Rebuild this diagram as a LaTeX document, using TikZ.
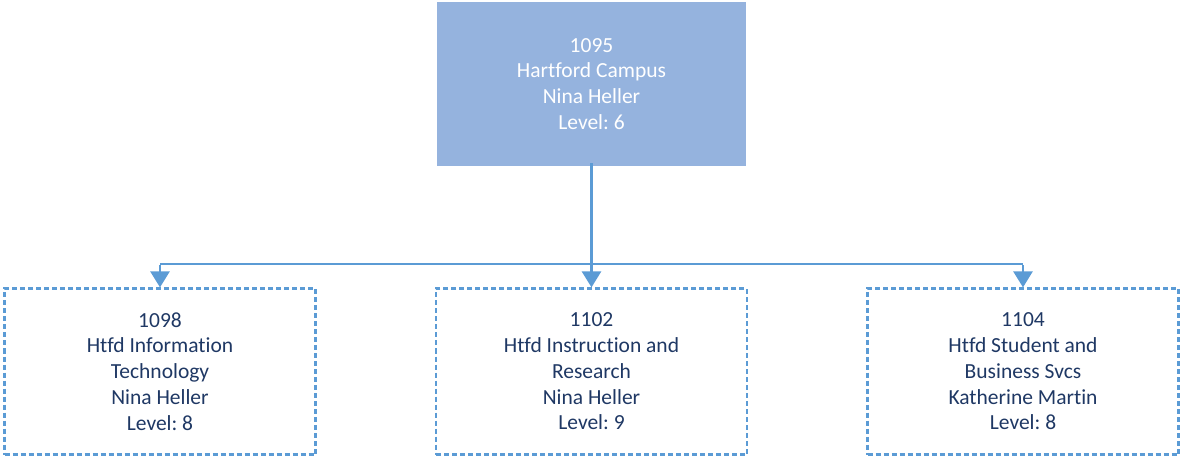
\documentclass[tikz,border=0pt]{standalone}
\usepackage{fontspec}
\setmainfont[Ligatures=NoCommon]{Carlito}
\usetikzlibrary{arrows.meta}
\definecolor{topfill}{HTML}{95B3DE}
\definecolor{linkblue}{HTML}{5B9BD5}
\definecolor{navytext}{HTML}{1F3864}
\frenchspacing

\begin{document}
\begin{tikzpicture}[x=1pt,y=-1pt]
\tikzstyle{every node}+=[align=center,font=\fontsize{21.5}{25.8}\selectfont]
\tikzstyle{headbox}=[fill=topfill,text=white,minimum width=309pt,minimum height=164pt,inner sep=0pt]
\tikzstyle{unitbox}=[draw=linkblue,line width=2.2pt,dash pattern=on 5pt off 3pt,text=navytext,minimum width=311pt,minimum height=166pt,inner sep=0pt]
\tikzstyle{link}=[draw=linkblue,line width=2.6pt]
\tikzstyle{linkarrow}=[link,-{Triangle[length=16pt,width=19pt]}]
\useasboundingbox (0,0) rectangle (1184,457);
\node [headbox] (campus) at (591.5,84) {1095\\Hartford Campus\\Nina Heller\\Level: 6};
\node [unitbox] (infotech) at (160,371.5) {1098\\Htfd Information\\Technology\\Nina Heller\\Level: 8};
\node [unitbox] (instruct) at (591.5,371.5) {1102\\Htfd Instruction and\\Research\\Nina Heller\\Level: 9};
\node [unitbox] (student) at (1023,371.5) {1104\\Htfd Student and\\Business Svcs\\Katherine Martin\\Level: 8};
\coordinate (busleft) at (infotech.north |- 0,264);
\coordinate (busright) at (student.north |- 0,264);
\draw [link] (busleft) -- (busright);
\draw [linkarrow] ([yshift=3pt]campus.south) -- (instruct.north);
\draw [linkarrow] ([yshift=-1.3pt]busleft) -- (infotech.north);
\draw [linkarrow] ([yshift=-1.3pt]busright) -- (student.north);
\end{tikzpicture}
\end{document}
